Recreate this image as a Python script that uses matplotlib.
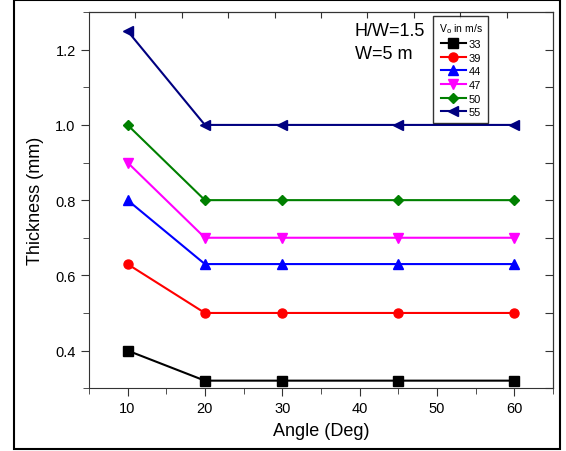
import matplotlib
matplotlib.use("Agg")
import matplotlib.pyplot as plt
from matplotlib.patches import Rectangle
from matplotlib.ticker import MultipleLocator, FixedLocator, FormatStrFormatter

plt.rcParams['font.family'] = ['Liberation Sans', 'DejaVu Sans']

angles = [10, 20, 30, 45, 60]
speeds = ['33', '39', '44', '47', '50', '55']
t33 = [0.40, 0.32, 0.32, 0.32, 0.32]
t39 = [0.63, 0.50, 0.50, 0.50, 0.50]
t44 = [0.80, 0.63, 0.63, 0.63, 0.63]
t47 = [0.90, 0.70, 0.70, 0.70, 0.70]
t50 = [1.00, 0.80, 0.80, 0.80, 0.80]
t55 = [1.25, 1.00, 1.00, 1.00, 1.00]

series = [t33, t39, t44, t47, t50, t55]
colors = ['black', 'red', 'blue', 'magenta', '#008000', '#000080']
markers = ['s', 'o', '^', 'v', 'D', '<']

fig = plt.figure(figsize=(5.66, 4.52), dpi=100)
ax = fig.add_axes([0.157, 0.139, 0.820, 0.832])

for vals, lab, c, m in zip(series, speeds, colors, markers):
    ms = 5.5 if m == 'D' else 6.5
    ax.plot(angles, vals, color=c, marker=m, markersize=ms, lw=1.5, label=lab)

ax.set_xlim(5, 65)
ax.set_ylim(0.3, 1.3)
ax.xaxis.set_major_locator(MultipleLocator(10))
ax.xaxis.set_minor_locator(MultipleLocator(5))
ax.yaxis.set_major_locator(MultipleLocator(0.2))
ax.yaxis.set_minor_locator(MultipleLocator(0.1))
ax.tick_params(which='both', direction='out', top=False, right=False,
               labelsize=10.5, color='#333333')
ax.tick_params(which='major', length=6)
ax.tick_params(which='minor', length=4)
for s in ax.spines.values():
    s.set_color('#333333')

# inward ticks on top and right spines
ax2 = ax.secondary_xaxis('top')
ax2.xaxis.set_major_locator(FixedLocator([11, 17, 23, 29, 35, 41, 47, 53, 59]))
ax2.tick_params(direction='in', length=4, labeltop=False, color='#333333')
ax3 = ax.secondary_yaxis('right')
ax3.yaxis.set_major_locator(MultipleLocator(0.1))
ax3.tick_params(direction='in', length=6, labelright=False, color='#333333')

ax.yaxis.set_major_formatter(FormatStrFormatter('%.1f'))
ax.set_xlabel('Angle (Deg)', fontsize=13, labelpad=5)
ax.set_ylabel('Thickness (mm)', fontsize=13, labelpad=8)

ax.text(0.573, 0.95, 'H/W=1.5', transform=ax.transAxes, fontsize=13, va='center')
ax.text(0.573, 0.89, 'W=5 m', transform=ax.transAxes, fontsize=13, va='center')

leg = ax.legend(title=r'V$_\mathrm{o}$ in m/s', loc='upper left',
                bbox_to_anchor=(0.742, 0.99), fontsize=8, title_fontsize=7.5,
                frameon=True, fancybox=False, edgecolor='black',
                handlelength=2.3, handletextpad=0.2, labelspacing=0.33,
                borderpad=0.5, borderaxespad=0.0, markerscale=1.0)
leg.get_frame().set_linewidth(1.0)

fig.patches.append(Rectangle((14 / 566, 2 / 452), 546 / 566, 449 / 452,
                             transform=fig.transFigure, fill=False,
                             edgecolor='black', lw=1.5))

fig.savefig('out.png', dpi=100)
